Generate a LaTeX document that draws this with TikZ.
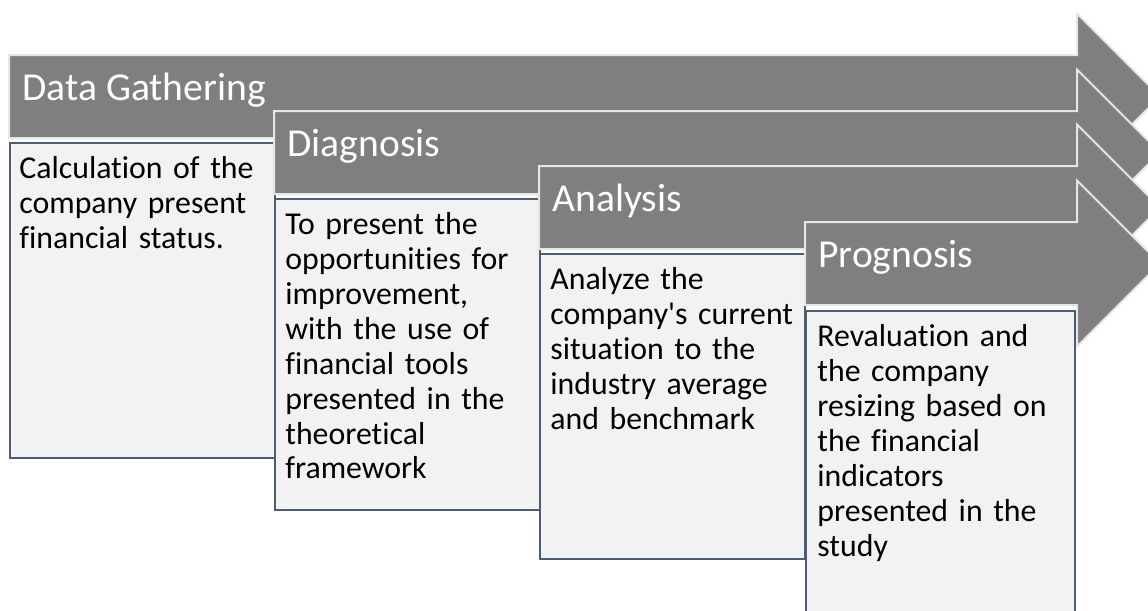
\documentclass[tikz,border=0pt]{standalone}
\usepackage{fontspec}
\setmainfont{Carlito}[Ligatures={TeXOff,NoCommon}]
\usepackage{tikz}
\definecolor{stagegray}{HTML}{7F7F7F}
\definecolor{rimgray}{HTML}{E6E6E6}
\definecolor{notefill}{HTML}{F2F2F2}
\definecolor{noteline}{HTML}{4F5D73}

\begin{document}
\begin{tikzpicture}[x=0.5pt, y=-0.5pt,
  stage/.style={fill=stagegray, draw=rimgray, line width=1pt},
  title/.style={anchor=base west, inner sep=0pt, text=white, font=\fontsize{19.8}{24}\selectfont},
  note/.style={anchor=north west, inner sep=0pt, fill=notefill, draw=noteline, line width=1pt, minimum width=132.5pt},
  notetext/.style={anchor=base west, inner sep=0pt, align=left, text width=125pt, font=\fontsize{15.9}{17.5}\selectfont}]
  \useasboundingbox (0,0) rectangle (1148,611);
  \clip (0,0) rectangle (1148,611);

  % stage 1
  \draw[stage] (9,55) -- (1077,55) -- (1077,13.5) -- (1160,96.5) -- (1077,179.5) -- (1077,138) -- (9,138) -- cycle;
  \node[title] (gather) at (22,100) {Data Gathering};
  \node[note, minimum height=157.5pt] (gather-box) at (9,142) {};
  \node[notetext] (gather-txt) at (19,178) {Calculation of the\\ company present\\ financial status.};

  % stage 2
  \draw[stage] (274,111) -- (1077,111) -- (1077,69.5) -- (1160,152.5) -- (1077,235.5) -- (1077,194) -- (274,194) -- cycle;
  \node[title] (diag) at (287,156) {Diagnosis};
  \node[note, minimum height=155.5pt] (diag-box) at (274,198) {};
  \node[notetext] (diag-txt) at (285,234) {To present the\\ opportunities for\\ improvement,\\ with the use of\\ financial tools\\ presented in the\\ theoretical\\ framework};

  % stage 3
  \draw[stage] (539,166) -- (1077,166) -- (1077,124.5) -- (1160,207.5) -- (1077,290.5) -- (1077,249) -- (539,249) -- cycle;
  \node[title] (anal) at (552,211) {Analysis};
  \node[note, minimum height=152.5pt] (anal-box) at (539,253) {};
  \node[notetext] (anal-txt) at (550,289) {Analyze the\\ company's current\\ situation to the\\ industry average\\ and benchmark};

  % stage 4
  \draw[stage] (805,222) -- (1077,222) -- (1077,180.5) -- (1160,263.5) -- (1077,346.5) -- (1077,305) -- (805,305) -- cycle;
  \node[title] (progn) at (818,267) {Prognosis};
  \node[note, minimum width=134.5pt, minimum height=160pt] (progn-box) at (805,310) {};
  \node[notetext] (progn-txt) at (817,346) {Revaluation and\\ the company\\ resizing based on\\ the financial\\ indicators\\ presented in the\\ study};
\end{tikzpicture}
\end{document}
